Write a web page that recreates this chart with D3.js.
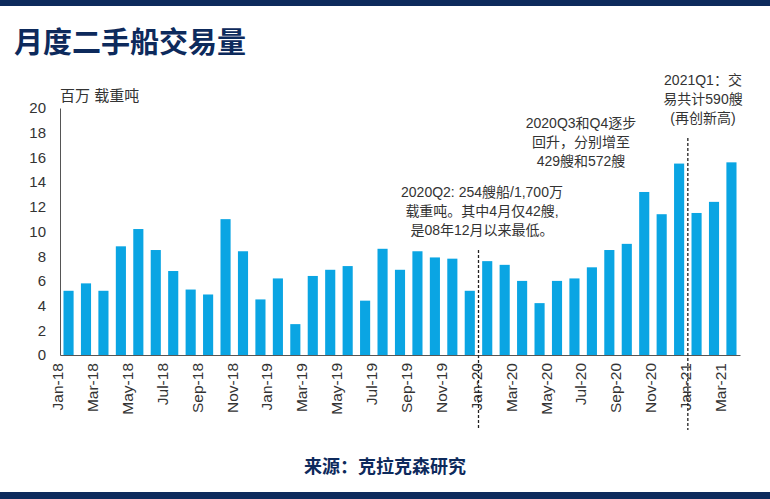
<!DOCTYPE html>
<html><head><meta charset="utf-8">
<script src="https://cdn.jsdelivr.net/npm/d3@7"></script>
<style>body{margin:0;background:#fff}text{font-family:"Liberation Sans","Noto Sans CJK SC",sans-serif}</style>
</head><body><div id="chart"></div>
<script>
const months = ["Jan","Feb","Mar","Apr","May","Jun","Jul","Aug","Sep","Oct","Nov","Dec"];
const categories = [];
["18","19","20"].forEach(y => months.forEach(m => categories.push(m + "-" + y)));
categories.push("Jan-21","Feb-21","Mar-21");
const values = [5.2,5.8,5.2,8.8,10.2,8.5,6.8,5.3,4.9,11.0,8.4,4.5,
                6.2,2.5,6.4,6.9,7.2,4.4,8.6,6.9,8.4,7.9,7.8,5.2,
                7.6,7.3,6.0,4.2,6.0,6.2,7.1,8.5,9.0,13.2,11.4,15.5,
                11.5,12.4,15.6];
const yTicks = [0,2,4,6,8,10,12,14,16,18,20];
const notes = [
  {after:"Dec-19", lines:["2020Q2: 254艘船/1,700万","载重吨。其中4月仅42艘,","是08年12月以来最低。"], cx:482, y:197, top:250},
  {after:null, lines:["2020Q3和Q4逐步","回升，分别增至","429艘和572艘"], cx:581, y:128, top:null},
  {after:"Dec-20", lines:["2021Q1：交","易共计590艘","(再创新高)"], cx:703, y:85, top:138}
];

const W = 770, H = 499;
const svg = d3.select("#chart").append("svg").attr("width", W).attr("height", H);
const navy = "#0d2a5c";
svg.append("rect").attr("x",0).attr("y",0).attr("width",W).attr("height",6).attr("fill",navy);
svg.append("rect").attr("x",0).attr("y",492).attr("width",W).attr("height",7).attr("fill",navy);
svg.append("text").attr("x",14).attr("y",53).attr("font-size",29).attr("font-weight","bold")
  .attr("fill",navy).text("月度二手船交易量");
svg.append("text").attr("x",385).attr("y",473).attr("text-anchor","middle").attr("font-size",18)
  .attr("font-weight","bold").attr("fill",navy).text("来源：克拉克森研究");

const x = d3.scaleBand().domain(categories).range([60,740]).paddingInner(0.42).paddingOuter(0.2);
const y = d3.scaleLinear().domain([0,20]).range([355,108]);

svg.append("text").attr("x",60).attr("y",101).attr("font-size",15).attr("fill","#333").text("百万 载重吨");

svg.append("g").attr("transform","translate(60,0)")
  .call(d3.axisLeft(y).tickValues(yTicks).tickSize(0).tickPadding(14))
  .call(g => g.select(".domain").attr("stroke","#555"))
  .selectAll("text").attr("font-size",15).attr("fill","#333");

svg.append("g").selectAll("rect").data(values).join("rect")
  .attr("x",(d,i) => x(categories[i])).attr("width",x.bandwidth())
  .attr("y",d => y(d)).attr("height",d => y(0)-y(d)).attr("fill","#0aa5e3");

svg.append("g").attr("transform","translate(0,355)")
  .call(d3.axisBottom(x).tickValues(categories.filter((c,i) => i%2===0)).tickSize(0).tickPadding(8))
  .call(g => g.select(".domain").attr("stroke","#555"))
  .selectAll("text").attr("font-size",15.5).attr("fill","#333")
  .attr("transform","rotate(-90)").attr("text-anchor","end").attr("dx","-8").attr("dy","-0.35em").attr("y",0).attr("x",0);

notes.forEach(n => {
  if (n.after) {
    const xs = x(n.after) + x.step() - (x.step()-x.bandwidth())/2;
    svg.append("line").attr("x1",xs).attr("x2",xs).attr("y1",n.top).attr("y2",430)
      .attr("stroke","#222").attr("stroke-width",1.3).attr("stroke-dasharray","3,2");
  }
  n.lines.forEach((l,i) => svg.append("text").attr("x",n.cx).attr("y",n.y+i*19)
    .attr("text-anchor","middle").attr("font-size",14).attr("fill","#333").text(l));
});
</script></body></html>
